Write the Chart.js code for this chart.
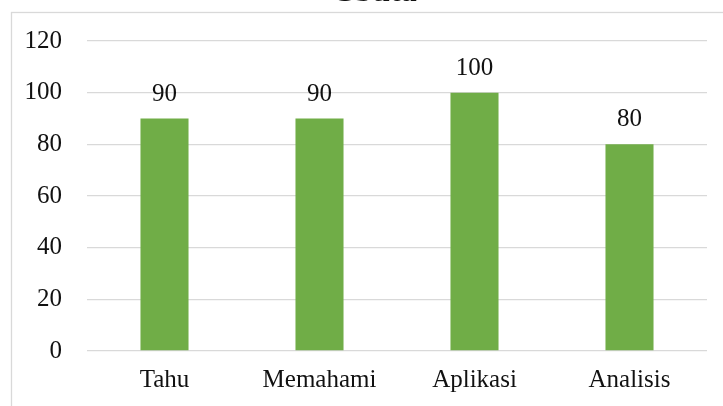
<!DOCTYPE html>
<html>
<head>
<meta charset="utf-8">
<script src="https://cdn.jsdelivr.net/npm/chart.js@4/dist/chart.umd.min.js"></script>
<style>
html,body{margin:0;padding:0;background:#fff;}
#wrap{position:relative;width:723px;height:406px;}
</style>
</head>
<body>
<div id="wrap"><canvas id="c" width="723" height="406"></canvas></div>
<script>
const titleText = "Cbuta";
const categories = ["Tahu", "Memahami", "Aplikasi", "Analisis"];
const values = [90, 90, 100, 80];
const yTicks = [0, 20, 40, 60, 80, 100, 120];

const FONT = "'Liberation Serif', 'Times New Roman', serif";
const TEXT = "#111111";

const framePlugin = {
  id: 'frame',
  beforeDraw(chart) {
    const ctx = chart.ctx;
    ctx.save();
    ctx.fillStyle = '#ffffff';
    ctx.fillRect(0, 0, chart.width, chart.height);
    ctx.strokeStyle = '#d9d9d9';
    ctx.lineWidth = 1.3;
    ctx.strokeRect(11.5, 12.5, chart.width + 20, chart.height + 20);
    // title (mostly clipped at top)
    ctx.fillStyle = TEXT;
    ctx.font = "bold 32px " + FONT;
    ctx.textAlign = 'center';
    ctx.textBaseline = 'alphabetic';
    ctx.fillText(titleText, 374, 1);
    ctx.restore();
  }
};

const labelPlugin = {
  id: 'barLabels',
  afterDatasetsDraw(chart) {
    const ctx = chart.ctx;
    const meta = chart.getDatasetMeta(0);
    ctx.save();
    ctx.fillStyle = TEXT;
    ctx.font = "25px " + FONT;
    ctx.textAlign = 'center';
    ctx.textBaseline = 'alphabetic';
    meta.data.forEach((bar, i) => {
      ctx.fillText(String(values[i]), bar.x, bar.y - 18);
    });
    ctx.restore();
  }
};

new Chart(document.getElementById('c'), {
  type: 'bar',
  data: {
    labels: categories,
    datasets: [{
      data: values,
      backgroundColor: '#70ad47',
      borderWidth: 0,
      barPercentage: 0.31,
      categoryPercentage: 1.0
    }]
  },
  options: {
    responsive: false,
    animation: false,
    devicePixelRatio: 1,
    layout: { padding: { top: 41, right: 16, left: 0, bottom: 0 } },
    plugins: {
      legend: { display: false },
      title: { display: false },
      tooltip: { enabled: false }
    },
    scales: {
      x: {
        grid: { display: false, drawTicks: false },
        border: { display: false },
        ticks: {
          color: TEXT,
          font: { family: FONT, size: 25 },
          padding: 14,
          maxRotation: 0
        },
        afterFit(scale) { scale.height = 55; }
      },
      y: {
        min: 0,
        max: 120,
        afterBuildTicks(scale) { scale.ticks = yTicks.map(v => ({ value: v })); },
        grid: { color: '#d9d9d9', lineWidth: 1.3, drawTicks: false },
        border: { display: false },
        ticks: {
          color: TEXT,
          font: { family: FONT, size: 25 },
          padding: 25
        },
        afterFit(scale) { scale.width = 87; }
      }
    }
  },
  plugins: [framePlugin, labelPlugin]
});
</script>
</body>
</html>
